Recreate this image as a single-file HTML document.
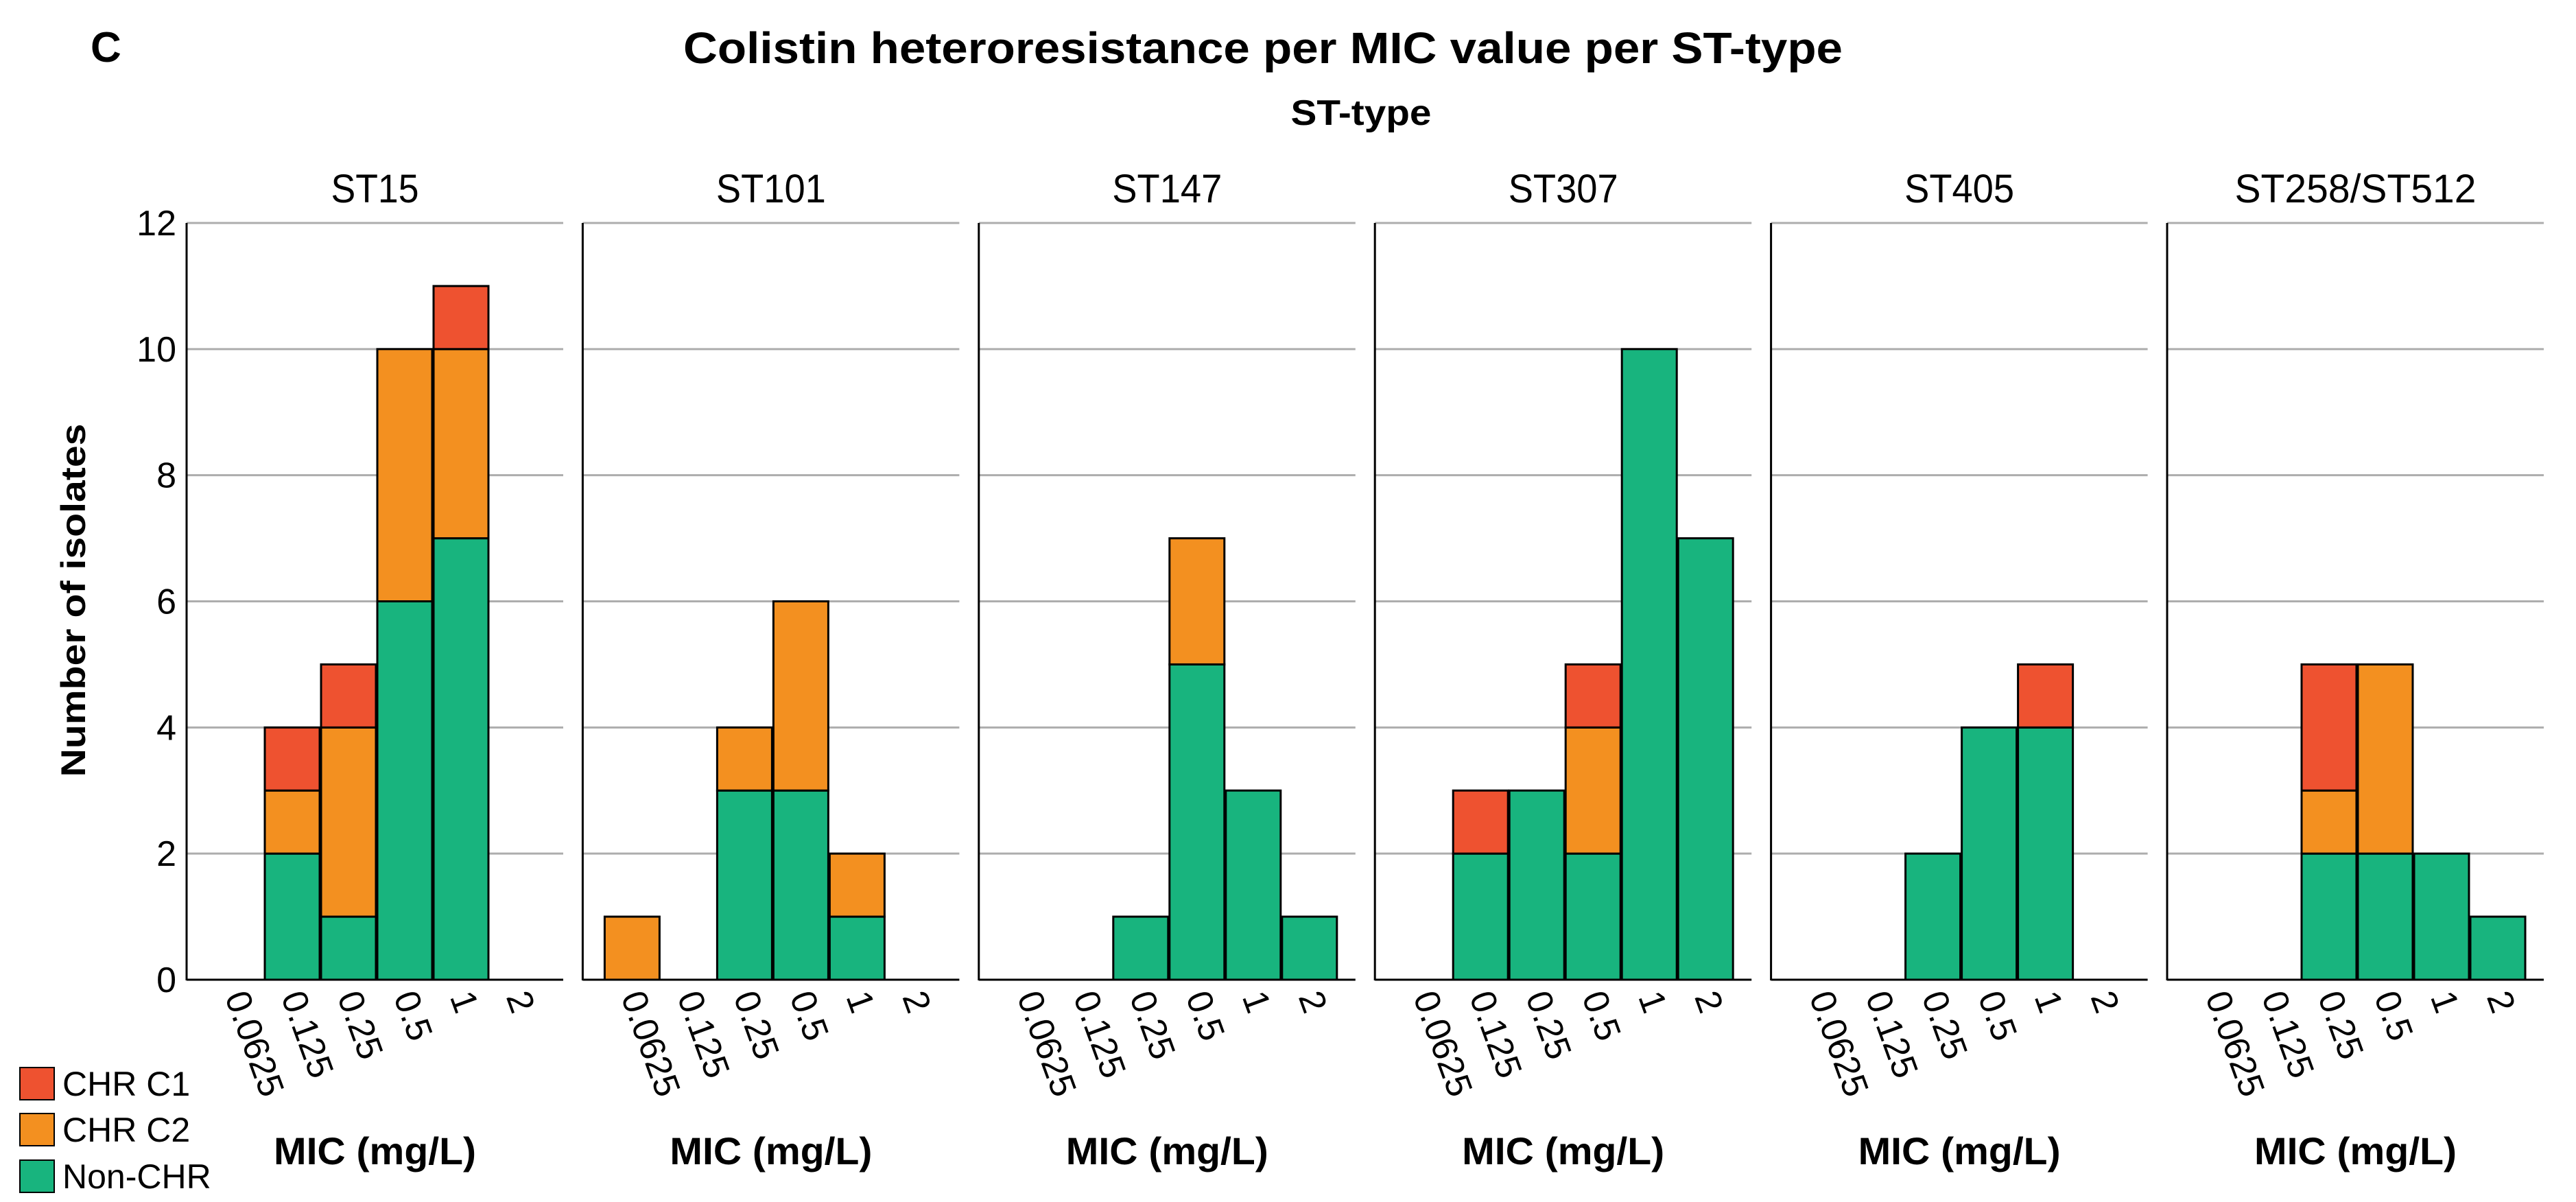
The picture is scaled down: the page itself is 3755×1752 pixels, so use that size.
<!DOCTYPE html>
<html><head><meta charset="utf-8"><style>
html,body{margin:0;padding:0;background:#fff}
svg{display:block;font-family:"Liberation Sans",Arial,sans-serif}
</style></head><body>
<svg id="chart" width="3755" height="1752" viewBox="0 0 3755 1752" xmlns="http://www.w3.org/2000/svg">
<text x="132" y="90" font-size="62" font-weight="bold">C</text>
<text x="1841" y="92" font-size="64" font-weight="bold" text-anchor="middle" textLength="1690" lengthAdjust="spacingAndGlyphs">Colistin heteroresistance per MIC value per ST-type</text>
<text x="1984" y="182" font-size="52" font-weight="bold" text-anchor="middle" textLength="205" lengthAdjust="spacingAndGlyphs">ST-type</text>
<text transform="translate(124,875) rotate(-90)" font-size="50" font-weight="bold" text-anchor="middle" textLength="515" lengthAdjust="spacingAndGlyphs">Number of isolates</text>
<g id="legend">
<rect x="29" y="1556" width="50" height="47" fill="#EE5230" stroke="#000" stroke-width="2"/>
<text x="91" y="1597" font-size="50">CHR C1</text>
<rect x="29" y="1623" width="50" height="47" fill="#F39020" stroke="#000" stroke-width="2"/>
<text x="91" y="1664" font-size="50">CHR C2</text>
<rect x="29" y="1691" width="50" height="47" fill="#18B47E" stroke="#000" stroke-width="2"/>
<text x="91" y="1732" font-size="50">Non-CHR</text>
</g>
<g id="plots"></g>
</svg>
<script>
const panels = ["ST15","ST101","ST147","ST307","ST405","ST258/ST512"];
const categories = ["0.0625","0.125","0.25","0.5","1","2"];
const nonChr = [
 [0,2,1,6,7,0],
 [0,0,3,3,1,0],
 [0,0,1,5,3,1],
 [0,2,3,2,10,7],
 [0,0,2,4,4,0],
 [0,0,2,2,2,1]
];
const chrC2 = [
 [0,1,3,4,3,0],
 [1,0,1,3,1,0],
 [0,0,0,2,0,0],
 [0,0,0,2,0,0],
 [0,0,0,0,0,0],
 [0,0,1,3,0,0]
];
const chrC1 = [
 [0,1,1,0,1,0],
 [0,0,0,0,0,0],
 [0,0,0,0,0,0],
 [0,1,0,1,0,0],
 [0,0,0,0,1,0],
 [0,0,2,0,0,0]
];
const yTicks = [0,2,4,6,8,10,12];

const NS="http://www.w3.org/2000/svg";
const g=document.getElementById('plots');
const Y0=1428, Y12=325, YMAX=12;
const y=v=>Y0-(Y0-Y12)*v/YMAX;
const panelX=i=>272+i*577.4;
const PW=549, OFF=31, PITCH=82, BW=80;
const slotX=(i,j)=>panelX(i)+OFF+j*PITCH;
function mk(tag,attrs){const e=document.createElementNS(NS,tag);for(const k in attrs)e.setAttribute(k,attrs[k]);g.appendChild(e);return e;}
const colors={g:"#18B47E",o:"#F39020",r:"#EE5230"};

panels.forEach((p,i)=>{
  const x0=panelX(i);
  yTicks.forEach(t=>{
    if(t===0)return;
    const l=mk('line',{x1:x0,x2:x0+PW,y1:y(t),y2:y(t),stroke:"#ADADAD","stroke-width":3});
    
    
  });
  const tt=mk('text',{x:x0+PW/2,y:295,"font-size":58,"text-anchor":"middle",textLength:p.length*32,lengthAdjust:"spacingAndGlyphs"});
  tt.textContent=p;
  
  
  categories.forEach((c,j)=>{
    const bx=slotX(i,j)+1;
    let base=0;
    [[nonChr,'g','bar-non-chr'],[chrC2,'o','bar-chr-c2'],[chrC1,'r','bar-chr-c1']].forEach(([arr,col,nm])=>{
      const v=arr[i][j];
      if(v>0){
        const r=mk('rect',{x:bx,y:y(base+v),width:BW,height:y(base)-y(base+v),fill:colors[col],stroke:"#000","stroke-width":3});
        
        
      }
      base+=v;
    });
    const cx=slotX(i,j)+PITCH/2;
    const lt=mk('text',{x:0,y:0,"font-size":52,transform:`translate(${cx+18},${1440}) rotate(70)`,"dominant-baseline":"hanging"});
    lt.textContent=c;
    
    
  });
  const ax=mk('line',{x1:x0,x2:x0+PW,y1:Y0,y2:Y0,stroke:"#000","stroke-width":3});
  
  
  const ay=mk('line',{x1:x0,x2:x0,y1:Y12,y2:Y0+1,stroke:"#000","stroke-width":3});
  
  
  const xt=mk('text',{x:x0+PW/2,y:1697,"font-size":56,"font-weight":"bold","text-anchor":"middle",textLength:295,lengthAdjust:"spacingAndGlyphs"});
  xt.textContent="MIC (mg/L)";
  
  
});
yTicks.forEach(t=>{
  const tl=mk('text',{x:257,y:y(t)+18,"font-size":52,"text-anchor":"end"});
  tl.textContent=t;
  
  
});
</script>
</body></html>
